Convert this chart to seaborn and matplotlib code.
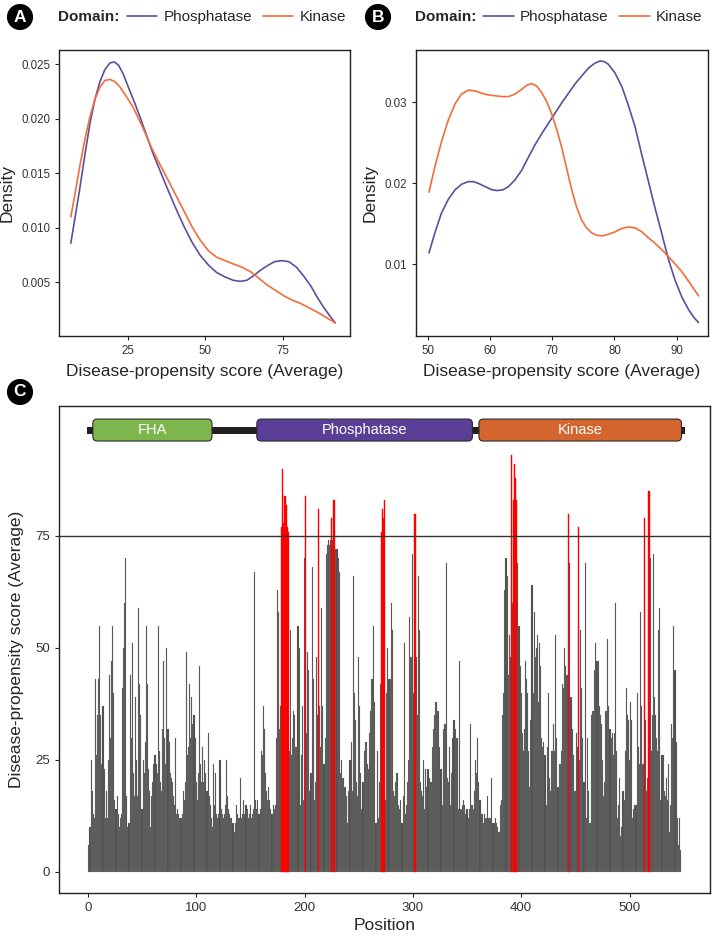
import numpy as np
import pandas as pd
import matplotlib.pyplot as plt
import seaborn as sns
from matplotlib.patches import FancyBboxPatch, Rectangle

# ==================================================
# Data
# ==================================================
# Panel A: density of average disease-propensity score, all residues
a_phos_x = [6.6, 8.0, 9.6, 11.2, 12.8, 14.4, 16.0, 17.6, 19.2, 20.6, 22.0, 23.5,
            25.0, 27.0, 29.0, 31.0, 33.0, 35.3, 37.6, 40.3, 43.0, 45.7, 48.3, 51.0,
            53.7, 56.4, 59.0, 61.2, 63.4, 65.5, 67.7, 69.8, 72.3, 74.7, 77.0, 79.4,
            81.7, 84.0, 86.0, 88.0, 90.0, 91.9]
a_phos_y = [0.0086, 0.0110, 0.0138, 0.0168, 0.0196, 0.0218, 0.0234, 0.0245, 0.0251,
            0.0252, 0.0249, 0.0241, 0.0230, 0.0216, 0.0201, 0.0185, 0.0169, 0.0153,
            0.0137, 0.0119, 0.0102, 0.0087, 0.0075, 0.0066, 0.0059, 0.0055, 0.0052,
            0.0051, 0.0052, 0.0056, 0.0061, 0.0065, 0.0069, 0.0070, 0.0069, 0.0064,
            0.0056, 0.0047, 0.0037, 0.0028, 0.0020, 0.0013]
a_kin_x = [6.6, 8.0, 9.6, 11.2, 12.8, 14.4, 16.0, 17.6, 19.2, 20.8, 22.5, 24.6,
           26.8, 29.8, 32.7, 35.2, 37.6, 40.3, 43.0, 45.7, 48.3, 51.0, 53.7, 56.4,
           59.0, 61.8, 64.5, 67.2, 69.8, 72.5, 75.2, 77.9, 80.6, 83.3, 86.0, 89.0,
           91.9]
a_kin_y = [0.0110, 0.0132, 0.0158, 0.0182, 0.0202, 0.0218, 0.0229, 0.0235, 0.0236,
           0.0234, 0.0229, 0.0220, 0.0210, 0.0192, 0.0173, 0.0159, 0.0146, 0.0131,
           0.0116, 0.0101, 0.0089, 0.0079, 0.0073, 0.0070, 0.0067, 0.0064, 0.0060,
           0.0054, 0.0048, 0.0043, 0.0038, 0.0034, 0.0031, 0.0027, 0.0023, 0.0018,
           0.0013]

# Panel B: density for residues above 50
b_phos_x = [50.2, 51.2, 52.2, 53.3, 54.4, 55.5, 56.5, 57.3, 58.1, 59.2, 60.3, 61.2,
            62.1, 63.0, 64.0, 65.1, 66.1, 67.2, 68.3, 69.4, 70.5, 71.5, 72.6, 73.7,
            74.8, 75.8, 76.8, 77.7, 78.4, 79.0, 80.1, 81.2, 82.2, 83.3, 84.3, 85.4,
            86.5, 87.6, 88.6, 89.7, 90.8, 91.9, 92.7, 93.5]
b_phos_y = [0.0114, 0.0140, 0.0163, 0.0180, 0.0192, 0.0199, 0.0202, 0.0202, 0.0200,
            0.0196, 0.0192, 0.0191, 0.0192, 0.0196, 0.0204, 0.0216, 0.0231, 0.0247,
            0.0261, 0.0274, 0.0287, 0.0299, 0.0311, 0.0323, 0.0333, 0.0342, 0.0348,
            0.0351, 0.0350, 0.0347, 0.0336, 0.0319, 0.0297, 0.0270, 0.0238, 0.0204,
            0.0170, 0.0138, 0.0108, 0.0081, 0.0060, 0.0044, 0.0035, 0.0028]
b_kin_x = [50.2, 51.2, 52.2, 53.3, 54.4, 55.4, 56.5, 57.6, 58.7, 59.8, 60.8, 61.9,
           63.0, 64.0, 65.1, 65.9, 66.7, 67.5, 68.3, 69.1, 69.9, 70.7, 71.5, 72.3,
           73.1, 73.9, 74.7, 75.5, 76.3, 77.1, 78.0, 79.0, 80.1, 81.1, 82.2, 83.3,
           84.4, 85.4, 86.5, 87.6, 88.7, 89.8, 90.8, 92.1, 93.5]
b_kin_y = [0.0189, 0.0222, 0.0251, 0.0278, 0.0298, 0.0310, 0.0315, 0.0314, 0.0311,
           0.0309, 0.0308, 0.0307, 0.0307, 0.0310, 0.0316, 0.0321, 0.0323, 0.0320,
           0.0312, 0.0301, 0.0286, 0.0267, 0.0245, 0.0219, 0.0193, 0.0171, 0.0155,
           0.0145, 0.0139, 0.0136, 0.0135, 0.0137, 0.0140, 0.0144, 0.0146, 0.0145,
           0.0140, 0.0133, 0.0126, 0.0118, 0.0109, 0.0100, 0.0091, 0.0077, 0.0061]

# Panel C: per-residue score (positions 1..547)
scores = [
    6, 10, 25, 18, 13, 12, 43, 26, 35, 43, 55, 35, 24, 37, 23, 12, 18, 12, 25, 44, 30,
    47, 55, 40, 16, 14, 17, 13, 10, 12, 13, 41, 50, 60, 70, 17, 10, 11, 44, 30, 51, 22,
    17, 39, 25, 17, 59, 42, 35, 14, 25, 22, 29, 55, 42, 23, 18, 10, 17, 20, 24, 26, 24,
    22, 55, 27, 20, 18, 32, 47, 30, 24, 50, 32, 29, 22, 21, 20, 17, 15, 30, 13, 14, 13,
    12, 12, 13, 18, 16, 20, 49, 26, 28, 42, 30, 39, 33, 35, 30, 20, 16, 22, 46, 24, 20,
    28, 20, 25, 22, 18, 31, 17, 15, 12, 10, 24, 15, 22, 13, 12, 13, 25, 14, 13, 12, 13,
    15, 25, 17, 14, 13, 12, 12, 11, 9, 11, 15, 13, 12, 12, 21, 12, 13, 16, 13, 15, 14,
    12, 13, 15, 12, 13, 14, 67, 16, 14, 16, 13, 14, 27, 26, 37, 32, 22, 18, 16, 19, 16,
    14, 13, 15, 14, 15, 30, 63, 58, 32, 37, 77, 90, 78, 84, 82, 77, 76, 27, 54, 26, 30,
    36, 35, 28, 28, 55, 50, 15, 26, 37, 16, 70, 84, 31, 49, 45, 18, 22, 68, 43, 16, 20,
    48, 35, 81, 37, 28, 59, 37, 24, 30, 71, 73, 74, 73, 74, 79, 74, 83, 83, 72, 72, 70,
    67, 22, 25, 21, 21, 19, 19, 17, 11, 18, 25, 29, 18, 66, 40, 34, 20, 17, 48, 37, 22,
    14, 20, 27, 29, 29, 24, 23, 31, 36, 43, 43, 55, 38, 11, 27, 12, 20, 42, 76, 81, 79,
    83, 16, 40, 50, 43, 43, 60, 54, 18, 17, 20, 22, 22, 15, 14, 16, 11, 17, 51, 13, 15,
    20, 25, 57, 48, 48, 71, 40, 80, 48, 35, 66, 54, 20, 18, 17, 25, 14, 23, 19, 23, 21,
    20, 20, 28, 32, 35, 38, 38, 36, 36, 28, 23, 15, 32, 33, 33, 69, 21, 20, 28, 15, 22,
    30, 34, 32, 30, 30, 14, 47, 14, 14, 15, 16, 15, 13, 14, 12, 14, 33, 15, 15, 14, 18,
    25, 22, 30, 20, 16, 13, 13, 11, 13, 12, 12, 17, 12, 12, 12, 21, 11, 11, 12, 11, 10,
    9, 9, 15, 16, 35, 40, 63, 70, 66, 44, 53, 48, 93, 60, 83, 91, 88, 83, 69, 55, 46,
    40, 31, 27, 32, 47, 43, 40, 27, 19, 34, 64, 40, 58, 48, 50, 53, 38, 51, 46, 30, 28,
    29, 26, 15, 28, 40, 21, 18, 27, 27, 33, 27, 53, 30, 19, 24, 24, 27, 42, 41, 50, 46,
    44, 44, 80, 69, 39, 32, 26, 18, 18, 31, 28, 77, 25, 54, 41, 30, 20, 69, 12, 30, 18,
    11, 11, 35, 36, 36, 45, 51, 47, 47, 37, 35, 33, 25, 17, 20, 36, 36, 52, 37, 32, 30,
    31, 26, 31, 60, 27, 12, 15, 21, 8, 10, 18, 16, 27, 41, 35, 34, 25, 38, 34, 12, 14,
    15, 15, 40, 28, 24, 58, 37, 24, 24, 79, 34, 18, 21, 85, 70, 27, 35, 71, 39, 35, 30,
    27, 54, 59, 16, 26, 26, 18, 17, 21, 16, 24, 9, 15, 33, 30, 55, 45, 29, 12, 6, 12, 5,
]
positions = list(range(1, len(scores) + 1))
threshold = 75

domain_names = ["FHA", "Phosphatase", "Kinase"]
domain_start = [4.6, 156, 361]
domain_end = [114.6, 355, 548]
domain_colors = ["#7db64c", "#5b3f96", "#d5652f"]
backbone = (-1, 551)

PHOS_COLOR = "#5e4c9e"
KIN_COLOR = "#f26d3a"

# ==================================================
# Style
# ==================================================
sns.set_style("ticks")
plt.rcParams["font.family"] = ["Liberation Sans", "DejaVu Sans"]
plt.rcParams["axes.edgecolor"] = "#222222"
plt.rcParams["xtick.color"] = "#222222"
plt.rcParams["ytick.color"] = "#222222"
plt.rcParams["xtick.labelcolor"] = "#333333"
plt.rcParams["ytick.labelcolor"] = "#333333"

fig = plt.figure(figsize=(7.15, 9.4), dpi=100)
ax_a = fig.add_axes([0.083, 0.6426, 0.4066, 0.3043])
ax_b = fig.add_axes([0.5814, 0.6426, 0.4084, 0.3043])
ax_c = fig.add_axes([0.083, 0.050, 0.910, 0.518])


def density_df(px, py, kx, ky):
    return pd.concat([
        pd.DataFrame({"x": px, "y": py, "Domain": "Phosphatase"}),
        pd.DataFrame({"x": kx, "y": ky, "Domain": "Kinase"}),
    ], ignore_index=True)


def density_panel(ax, df, xlim, ylim, xticks, yticks, yfmt):
    sns.lineplot(data=df, x="x", y="y", hue="Domain", sort=False, estimator=None,
                 palette={"Phosphatase": PHOS_COLOR, "Kinase": KIN_COLOR},
                 linewidth=1.2, ax=ax)
    ax.set_xlim(*xlim)
    ax.set_ylim(*ylim)
    ax.set_xticks(xticks)
    ax.set_yticks(yticks)
    ax.set_yticklabels([yfmt.format(v) for v in yticks])
    ax.tick_params(labelsize=8.3, length=3, width=0.8)
    ax.set_xlabel("Disease-propensity score (Average)", fontsize=12.5, labelpad=5)
    ax.set_ylabel("Density", fontsize=12.5, labelpad=5)
    for s in ax.spines.values():
        s.set_linewidth(1.0)
    sns.move_legend(ax, "center left", bbox_to_anchor=(0.232, 1.115), ncol=2,
                    title=None, frameon=False, fontsize=11, handlelength=2.0,
                    handletextpad=0.4, columnspacing=0.7, borderaxespad=0,
                    borderpad=0)


density_panel(ax_a, density_df(a_phos_x, a_phos_y, a_kin_x, a_kin_y),
              (2.9, 96.7), (0.0001, 0.0263), [25, 50, 75],
              [0.005, 0.010, 0.015, 0.020, 0.025], "{:.3f}")
density_panel(ax_b, density_df(b_phos_x, b_phos_y, b_kin_x, b_kin_y),
              (48.07, 94.98), (0.00115, 0.03646), [50, 60, 70, 80, 90],
              [0.01, 0.02, 0.03], "{:.2f}")

fig.text(58 / 715, 1 - 17 / 940, "Domain:", fontsize=11, fontweight="bold",
         ha="left", va="center")
fig.text(415 / 715, 1 - 17 / 940, "Domain:", fontsize=11, fontweight="bold",
         ha="left", va="center")

# ==================================================
# Panel C: per-residue bars
# ==================================================
df_c = pd.DataFrame({"Position": positions, "Score": scores})
df_c["high"] = df_c["Score"] > threshold

sns.barplot(data=df_c[~df_c["high"]], x="Position", y="Score", native_scale=True,
            width=1, color="#4a4a4a", saturation=1, edgecolor="#8f8f8f",
            linewidth=0.15, errorbar=None, ax=ax_c)
sns.barplot(data=df_c[df_c["high"]], x="Position", y="Score", native_scale=True,
            width=1, color="#ff0000", saturation=1, edgecolor="#ff0000",
            linewidth=0.3, errorbar=None, ax=ax_c)
ax_c.axhline(threshold, color="#333333", linewidth=1.0, zorder=5)

# domain architecture cartoon
ax_c.add_patch(Rectangle((backbone[0], 97.8), backbone[1] - backbone[0], 1.6,
                         facecolor="#231f20", edgecolor="none", zorder=4))
for name, s, e, c in zip(domain_names, domain_start, domain_end, domain_colors):
    box = FancyBboxPatch((s, 96.2), e - s, 4.9,
                         boxstyle="round,pad=0,rounding_size=4",
                         mutation_aspect=0.25, facecolor=c,
                         edgecolor="#2a2a2a", linewidth=0.8, zorder=6)
    ax_c.add_patch(box)
    ax_c.text((s + e) / 2, 98.65, name, color="white", fontsize=10.5,
              ha="center", va="center", zorder=7)

ax_c.set_xlim(-26.3, 574.3)
ax_c.set_ylim(-4.7, 104.0)
ax_c.set_xticks([0, 100, 200, 300, 400, 500])
ax_c.set_xticklabels(["0", "100", "200", "300", "400", "500"])
ax_c.set_yticks([0, 25, 50, 75])
ax_c.tick_params(labelsize=9.5, length=3, width=0.8)
ax_c.set_xlabel("Position", fontsize=12.5, labelpad=3)
ax_c.set_ylabel("Disease-propensity score (Average)", fontsize=12.5, labelpad=8)
for s in ax_c.spines.values():
    s.set_linewidth(1.0)

# panel tags
for tag, x, y in [("A", 20, 17), ("B", 378, 17), ("C", 20, 392)]:
    fig.text(x / 715, 1 - y / 940, tag, color="white", fontsize=12.5,
             fontweight="bold", ha="center", va="center",
             bbox=dict(boxstyle="circle,pad=0.28", facecolor="black",
                       edgecolor="black"))

fig.savefig("out.png", dpi=100)
